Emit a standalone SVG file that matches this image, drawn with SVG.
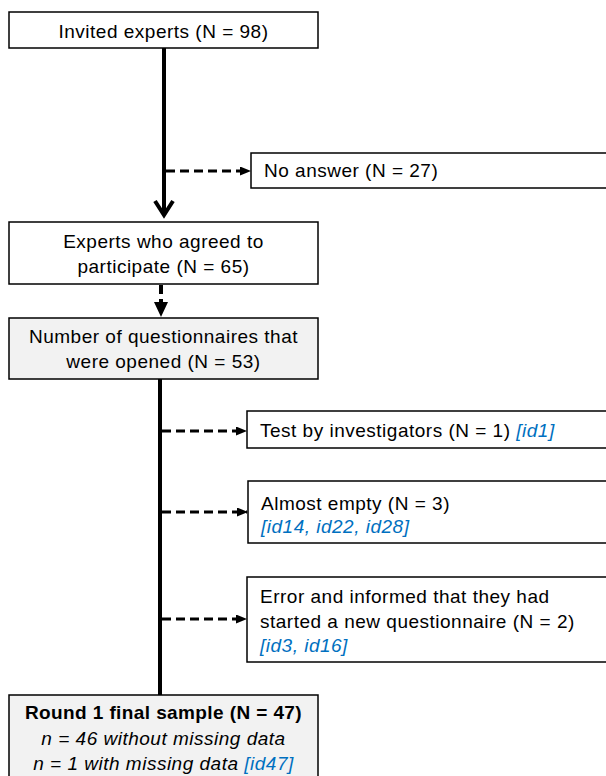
<svg xmlns="http://www.w3.org/2000/svg" width="606" height="776" viewBox="0 0 606 776">
<style>
.box{fill:#ffffff;stroke:#000;stroke-width:1.5}
.gray{fill:#f2f2f2}
text{font-family:"Liberation Sans",Arial,sans-serif;font-size:19px;letter-spacing:0.5px;fill:#000}
.c{text-anchor:middle}
.id{fill:#0070c0;font-style:italic}
.it{font-style:italic}
.b{font-weight:bold;letter-spacing:0.4px}
.main{stroke:#000;stroke-width:4;fill:none}
.dash{stroke:#000;stroke-width:3;stroke-dasharray:9 5;fill:none}
</style>
<defs>
<marker id="tri" markerWidth="11" markerHeight="9" refX="10" refY="4.5" orient="auto" markerUnits="userSpaceOnUse">
<path d="M0,0 L11,4.5 L0,9 Z" fill="#000"/>
</marker>
</defs>
<g id="connectors">
<line class="main" x1="164" y1="48" x2="164" y2="214"/>
<path d="M155,201 L164,215 L173,201" stroke="#000" stroke-width="4" fill="none"/>
<line class="dash" x1="166" y1="171" x2="250" y2="171" marker-end="url(#tri)"/>
<line x1="161" y1="285" x2="161" y2="302" stroke="#000" stroke-width="4" stroke-dasharray="9 5"/>
<path d="M154,302 L168,302 L161,317 Z" fill="#000"/>
<line class="main" x1="160" y1="379" x2="160" y2="695"/>
<line class="dash" x1="162" y1="431" x2="246" y2="431" marker-end="url(#tri)"/>
<line class="dash" x1="162" y1="512" x2="247" y2="512" marker-end="url(#tri)"/>
<line class="dash" x1="162" y1="619" x2="246" y2="619" marker-end="url(#tri)"/>
</g>
<g id="invited">
<rect class="box" x="9" y="12" width="309" height="36"/>
<text class="c" x="163.5" y="38">Invited experts (N = 98)</text>
</g>
<g id="noanswer">
<rect class="box" x="251" y="153" width="370" height="35"/>
<text x="264" y="177">No answer (N = 27)</text>
</g>
<g id="agreed">
<rect class="box" x="9" y="222" width="309" height="62"/>
<text class="c" x="163.5" y="248">Experts who agreed to</text>
<text class="c" x="163.5" y="273">participate (N = 65)</text>
</g>
<g id="opened">
<rect class="box gray" x="9" y="318" width="309" height="61"/>
<text class="c" x="163.5" y="343">Number of questionnaires that</text>
<text class="c" x="163.5" y="368">were opened (N = 53)</text>
</g>
<g id="test">
<rect class="box" x="247" y="411" width="370" height="37"/>
<text x="260" y="437">Test by investigators (N = 1) <tspan class="id">[id1]</tspan></text>
</g>
<g id="empty">
<rect class="box" x="248" y="481" width="370" height="62"/>
<text x="261" y="510">Almost empty (N = 3)</text>
<text class="id" x="261" y="533">[id14, id22, id28]</text>
</g>
<g id="error">
<rect class="box" x="247" y="577" width="370" height="85"/>
<text x="260" y="603">Error and informed that they had</text>
<text x="260" y="628">started a new questionnaire (N = 2)</text>
<text class="id" x="260" y="652">[id3, id16]</text>
</g>
<g id="final">
<rect class="box gray" x="9" y="695" width="309" height="90"/>
<text class="c b" x="163.5" y="719">Round 1 final sample (N = 47)</text>
<text class="c it" x="163.5" y="745">n = 46 without missing data</text>
<text class="c it" x="163.5" y="770">n = 1 with missing data <tspan class="id">[id47]</tspan></text>
</g>
</svg>
